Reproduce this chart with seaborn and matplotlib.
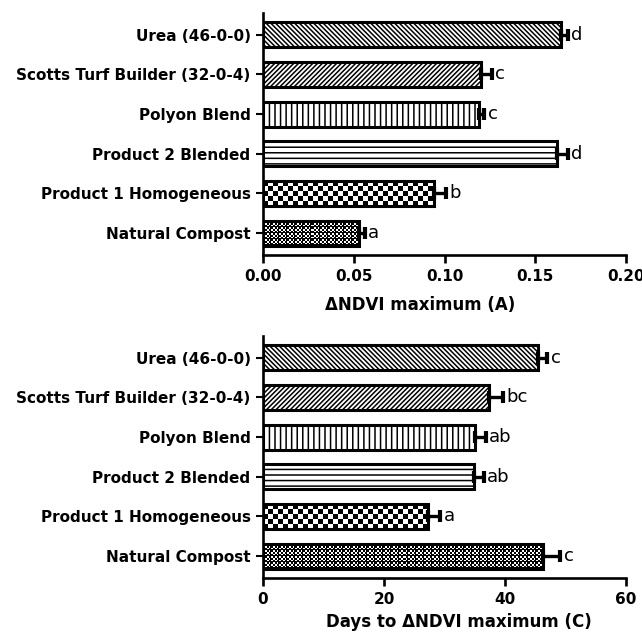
import numpy as np
import pandas as pd
import matplotlib
matplotlib.use("Agg")
import matplotlib.pyplot as plt
import seaborn as sns

# ---- data ----
treatments = ["Urea (46-0-0)", "Scotts Turf Builder (32-0-4)", "Polyon Blend",
              "Product 2 Blended", "Product 1 Homogeneous", "Natural Compost"]
ndvi_max = [0.164, 0.120, 0.119, 0.162, 0.094, 0.053]
ndvi_err = [0.004, 0.006, 0.003, 0.006, 0.007, 0.003]
ndvi_letters = ["d", "c", "c", "d", "b", "a"]
days_max = [45.5, 37.3, 35.1, 34.8, 27.2, 46.2]
days_err = [1.5, 2.4, 1.7, 1.7, 2.1, 2.9]
days_letters = ["c", "bc", "ab", "ab", "a", "c"]
top_xticks = [0.00, 0.05, 0.10, 0.15, 0.20]
top_xticklabels = ["0.00", "0.05", "0.10", "0.15", "0.20"]
bot_xticks = [0, 20, 40, 60]
bot_xticklabels = ["0", "20", "40", "60"]

sns.set_style("white")
plt.rcParams["font.family"] = ["DejaVu Sans"]
plt.rcParams["hatch.linewidth"] = 1.1
plt.rcParams["text.color"] = "black"
plt.rcParams["axes.labelcolor"] = "black"

hatches = ["\\\\\\\\\\\\\\", "///////", "|||", "---", None, None]
patterns = [None, None, None, None, "checker", "fine"]

fig = plt.figure(figsize=(6.42, 6.39), dpi=100)
ax_top = fig.add_axes([0.4097, 0.601, 0.5654, 0.3787])
ax_bot = fig.add_axes([0.4097, 0.0955, 0.5654, 0.3787])


def pattern_array(kind, wpx, hpx):
    jj, ii = np.meshgrid(np.arange(wpx), np.arange(hpx))
    if kind == "checker":
        return (((jj // 5) + (ii // 5)) % 2).astype(float)
    white = (((jj // 2) + (ii // 2)) % 2 == 0) & (ii % 6 != 5) & (jj % 8 != 7)
    return white.astype(float)


def draw_panel(ax, means, errs, letters, xlim, xticks, xticklabels, xlabel,
               label_x, label_y):
    df = pd.DataFrame({"treatment": treatments, "value": means})
    sns.barplot(data=df, x="value", y="treatment", orient="h", color="white",
                edgecolor="black", linewidth=2.2, width=0.63, errorbar=None,
                saturation=1, ax=ax)
    ax.set_xlim(*xlim)
    ax.set_ylim(5.55, -0.55)
    ax.errorbar(means, np.arange(len(means)), xerr=[np.zeros(len(errs)), errs],
                fmt="none", ecolor="black", elinewidth=2.4, capsize=4.5,
                capthick=3.0, zorder=3)
    for i, (m, e, lab) in enumerate(zip(means, errs, letters)):
        ax.annotate(lab, xy=(m + e, i), xytext=(2.5, 0), textcoords="offset points",
                    ha="left", va="center", fontsize=13, color="black")
    patches = list(ax.patches)
    fig.canvas.draw()
    for p, h, kind in zip(patches, hatches, patterns):
        if h is not None:
            p.set_hatch(h)
        if kind is not None:
            p.set_facecolor("none")
            x0, y0, w, hgt = p.get_x(), p.get_y(), p.get_width(), p.get_height()
            (px0, py0) = ax.transData.transform((x0, y0))
            (px1, py1) = ax.transData.transform((x0 + w, y0 + hgt))
            wpx, hpx = int(round(abs(px1 - px0))), int(round(abs(py1 - py0)))
            arr = pattern_array(kind, wpx, hpx)
            ax.imshow(arr, extent=[x0, x0 + w, y0 + hgt, y0], aspect="auto",
                      cmap="gray", vmin=0, vmax=1, interpolation="nearest",
                      clip_path=p, zorder=0.9)
    ax.set_xlim(*xlim)
    ax.set_ylim(5.55, -0.55)
    ax.set_xticks(xticks)
    ax.set_xticklabels(xticklabels, fontweight="bold", fontsize=11, color="black")
    ax.set_yticks(range(len(treatments)))
    ax.set_yticklabels(treatments, fontweight="bold", fontsize=11, color="black")
    ax.set_ylabel("")
    ax.set_xlabel(xlabel, fontweight="bold", fontsize=12, color="black")
    ax.xaxis.set_label_coords(label_x, label_y)
    for s in ["top", "right"]:
        ax.spines[s].set_visible(False)
    for s in ["left", "bottom"]:
        ax.spines[s].set_linewidth(1.9)
        ax.spines[s].set_color("black")
    ax.tick_params(axis="y", left=True, length=5, width=1.5, pad=4, colors="black")
    ax.tick_params(axis="x", bottom=True, length=6, width=1.9, pad=4, colors="black")


draw_panel(ax_top, ndvi_max, ndvi_err, ndvi_letters, (0, 0.2),
           top_xticks, top_xticklabels, "\u0394NDVI maximum (A)", 0.432, -0.17)
draw_panel(ax_bot, days_max, days_err, days_letters, (0, 60),
           bot_xticks, bot_xticklabels, "Days to \u0394NDVI maximum (C)", 0.54, -0.145)

fig.savefig("out.png", dpi=100)
